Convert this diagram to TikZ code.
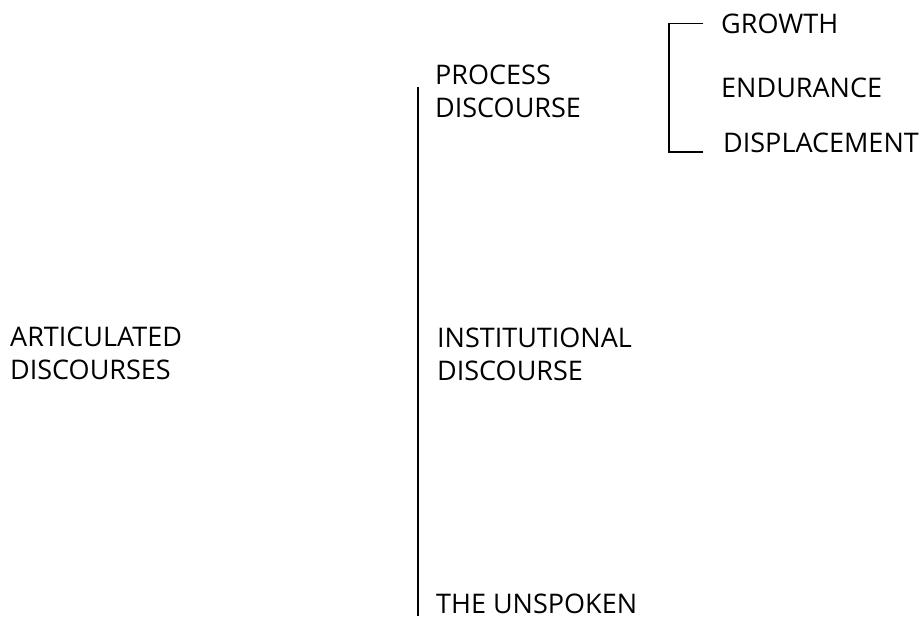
\documentclass[tikz,border=0pt]{standalone}
\usepackage{fontspec}
\setmainfont{Open Sans}
\usepackage{tikz}
\usetikzlibrary{positioning,calc}

\begin{document}
\begin{tikzpicture}[
    x=1pt, y=-1pt,
    label/.style={inner sep=0pt, anchor=base west, align=left, font=\fontsize{27}{33}\selectfont},
    line/.style={line width=1.2pt, black}
]
\useasboundingbox (0,0) rectangle (923,616);

% ============== LEFT: ARTICULATED DISCOURSES ==============
\node[label] (articulated) at (10,379) {ARTICULATED\\DISCOURSES};

% ============== MIDDLE: THREE DISCOURSES ==============
\node[label] (process) at (435,117) {PROCESS\\DISCOURSE};
\node[label] (institutional) at (437,380) {INSTITUTIONAL\\DISCOURSE};
\node[label] (unspoken) at (436,613) {THE UNSPOKEN};

% ============== RIGHT: PROCESS TERMS ==============
\node[label] (growth) at (721,33) {GROWTH};
\node[label] (endurance) at (721,97) {ENDURANCE};
\node[label] (displacement) at (723,152) {DISPLACEMENT};

% ============== LINES ==============
\coordinate (spineTop) at (418,87);
\coordinate (spineBot) at (418,616);

% Spine
\draw[line] (spineTop) -- (spineBot);

% Bracket GROWTH -> DISPLACEMENT
\draw[line] ([xshift=-18pt]growth.west) -- ++(-34,0) |- ([xshift=-20pt]displacement.base west);

\end{tikzpicture}
\end{document}
